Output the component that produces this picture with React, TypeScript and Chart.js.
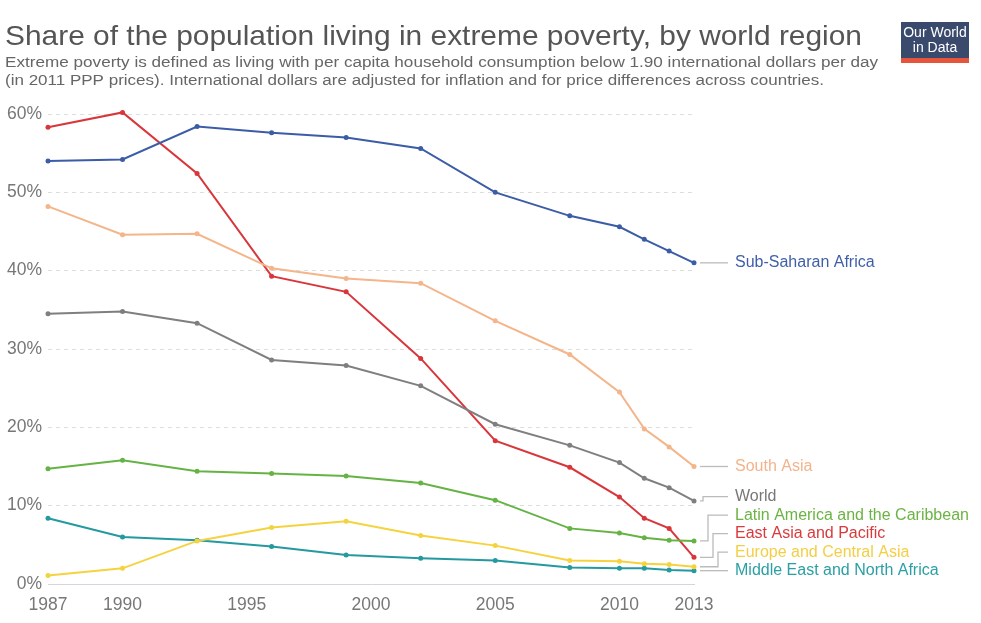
import React, { useEffect, useRef } from "react";
import { Chart, registerables } from "chart.js";

Chart.register(...registerables);

const years = [1987, 1990, 1993, 1996, 1999, 2002, 2005, 2008, 2010, 2011, 2012, 2013];
const xTicks = [1987, 1990, 1995, 2000, 2005, 2010, 2013];
const yTicks = [0, 10, 20, 30, 40, 50, 60];

const subSaharanAfrica = [54.0, 54.2, 58.4, 57.6, 57.0, 55.6, 50.0, 47.0, 45.6, 44.0, 42.5, 41.0];
const southAsia = [48.2, 44.6, 44.7, 40.3, 39.0, 38.4, 33.6, 29.3, 24.5, 19.8, 17.5, 15.0];
const world = [34.5, 34.8, 33.3, 28.6, 27.9, 25.3, 20.4, 17.7, 15.5, 13.5, 12.3, 10.6];
const latinAmerica = [14.7, 15.8, 14.4, 14.1, 13.8, 12.9, 10.7, 7.1, 6.5, 5.9, 5.6, 5.5];
const eastAsia = [58.3, 60.2, 52.4, 39.3, 37.3, 28.8, 18.3, 14.9, 11.1, 8.4, 7.1, 3.4];
const europeCentralAsia = [1.1, 2.0, 5.5, 7.2, 8.0, 6.2, 4.9, 3.0, 2.9, 2.6, 2.5, 2.2];
const middleEast = [8.4, 6.0, 5.6, 4.8, 3.7, 3.3, 3.0, 2.1, 2.0, 2.0, 1.8, 1.7];

const seriesNames = [
  "Sub-Saharan Africa",
  "South Asia",
  "World",
  "Latin America and the Caribbean",
  "East Asia and Pacific",
  "Europe and Central Asia",
  "Middle East and North Africa",
];
const seriesValues = [subSaharanAfrica, southAsia, world, latinAmerica, eastAsia, europeCentralAsia, middleEast];
const lineColors = ["#3b5ca6", "#f4b58a", "#7f7f7f", "#66b345", "#d9363b", "#f5d33f", "#24999f"];
const labelColors = ["#3f5fa8", "#f2b48c", "#777777", "#6bb443", "#d93a3d", "#f3cf45", "#2a9fa5"];

const title = "Share of the population living in extreme poverty, by world region";
const subtitle1 = "Extreme poverty is defined as living with per capita household consumption below 1.90 international dollars per day";
const subtitle2 = "(in 2011 PPP prices). International dollars are adjusted for inflation and for price differences across countries.";

const FONT = "'Liberation Sans', Arial, Helvetica, sans-serif";

function fillStretched(ctx: any, text: string, x: number, y: number, width: number) {
  const w = ctx.measureText(text).width;
  const s = width / w;
  ctx.save();
  ctx.translate(x, y);
  ctx.scale(s, 1);
  ctx.fillText(text, 0, 0);
  ctx.restore();
}

const headerPlugin = {
  id: "header",
  afterDraw(chart: any) {
    const ctx = chart.ctx;
    ctx.save();
    ctx.textAlign = "left";
    ctx.textBaseline = "alphabetic";
    ctx.fillStyle = "#555555";
    ctx.font = `28.5px ${FONT}`;
    fillStretched(ctx, title, 5, 45, 857);
    ctx.fillStyle = "#666666";
    ctx.font = `15.5px ${FONT}`;
    fillStretched(ctx, subtitle1, 5, 67, 873);
    fillStretched(ctx, subtitle2, 5, 85, 819);
    // logo
    ctx.fillStyle = "#3a4a6c";
    ctx.fillRect(901, 22, 68, 36);
    ctx.fillStyle = "#e4553b";
    ctx.fillRect(901, 58, 68, 5);
    ctx.fillStyle = "#ffffff";
    ctx.textAlign = "center";
    ctx.font = `14px 'Liberation Sans Narrow', ${FONT}`;
    ctx.fillText("Our World", 935, 37, 64);
    ctx.fillText("in Data", 935, 52, 64);
    ctx.restore();
  },
};

const labelPlugin = {
  id: "endLabels",
  afterDatasetsDraw(chart: any) {
    const ctx = chart.ctx;
    const right = chart.chartArea.right;
    const items = chart.data.datasets.map((ds: any, i: number) => {
      const meta = chart.getDatasetMeta(i);
      const pt = meta.data[meta.data.length - 1];
      return { i, y0: pt.y, y: pt.y };
    });
    items.sort((a: any, b: any) => b.y0 - a.y0);
    const gap = 18.5;
    for (let k = 1; k < items.length; k++) {
      if (items[k].y > items[k - 1].y - gap) items[k].y = items[k - 1].y - gap;
    }
    items.sort((a: any, b: any) => a.y0 - b.y0);
    ctx.save();
    ctx.font = `16px ${FONT}`;
    ctx.textBaseline = "middle";
    ctx.textAlign = "left";
    items.forEach((it: any, idx: number) => {
      ctx.strokeStyle = "#bbbbbb";
      ctx.lineWidth = 1.3;
      ctx.beginPath();
      const x0 = right + 6;
      const x1 = right + 34;
      if (Math.abs(it.y - it.y0) < 0.5) {
        ctx.moveTo(x0, it.y0);
        ctx.lineTo(x1, it.y0);
      } else {
        const ex = right + 5 * idx - 1;
        ctx.moveTo(x0, it.y0);
        ctx.lineTo(ex, it.y0);
        ctx.lineTo(ex, it.y);
        ctx.lineTo(x1, it.y);
      }
      ctx.stroke();
      ctx.fillStyle = labelColors[it.i];
      ctx.fillText(seriesNames[it.i], right + 41, it.y);
    });
    ctx.restore();
  },
};

export default function App() {
  const ref = useRef<HTMLCanvasElement>(null);
  useEffect(() => {
    if (!ref.current) return;
    const chart = new Chart(ref.current, {
      type: "line",
      data: {
        datasets: seriesNames.map((name, i) => ({
          label: name,
          data: years.map((yr, j) => ({ x: yr, y: seriesValues[i][j] })),
          borderColor: lineColors[i],
          backgroundColor: lineColors[i],
          borderWidth: 2,
          pointRadius: 2.5,
          pointBorderWidth: 0,
          pointBackgroundColor: lineColors[i],
          tension: 0,
          clip: false,
        })),
      },
      options: {
        responsive: false,
        animation: false,
        events: [],
        layout: { padding: { top: 114, right: 287, left: 0, bottom: 0 } },
        plugins: {
          legend: { display: false },
          tooltip: { enabled: false },
          title: { display: false },
        },
        scales: {
          x: {
            type: "linear",
            min: 1987,
            max: 2013,
            afterBuildTicks: (scale: any) => {
              scale.ticks = xTicks.map((v) => ({ value: v }));
            },
            afterFit: (scale: any) => {
              scale.height = 39;
            },
            grid: { display: false, drawTicks: false },
            border: { display: true, color: "#d5d5dd", width: 1 },
            ticks: {
              padding: 11,
              maxRotation: 0,
              autoSkip: false,
              color: "#777777",
              font: { family: FONT, size: 17.5 },
              callback: (v: any) => String(v),
            },
          },
          y: {
            min: 0,
            max: 60,
            afterBuildTicks: (scale: any) => {
              scale.ticks = yTicks.map((v) => ({ value: v }));
            },
            afterFit: (scale: any) => {
              scale.width = 48;
            },
            border: { display: false, dash: [4, 4] },
            grid: {
              drawTicks: false,
              color: (c: any) => (c.tick && c.tick.value === 0 ? "rgba(0,0,0,0)" : "#dddddd"),
              lineWidth: 1,
            },
            ticks: {
              padding: 6,
              color: "#777777",
              font: { family: FONT, size: 17.5 },
              callback: (v: any) => `${v}%`,
            },
          },
        },
      },
      plugins: [headerPlugin, labelPlugin],
    } as any);
    return () => chart.destroy();
  }, []);
  return (
    <div style={{ position: "fixed", left: 0, top: 0, width: 981, height: 623, background: "#ffffff" }}>
      <canvas ref={ref} width={981} height={623} style={{ width: 981, height: 623, display: "block" }} />
    </div>
  );
}
